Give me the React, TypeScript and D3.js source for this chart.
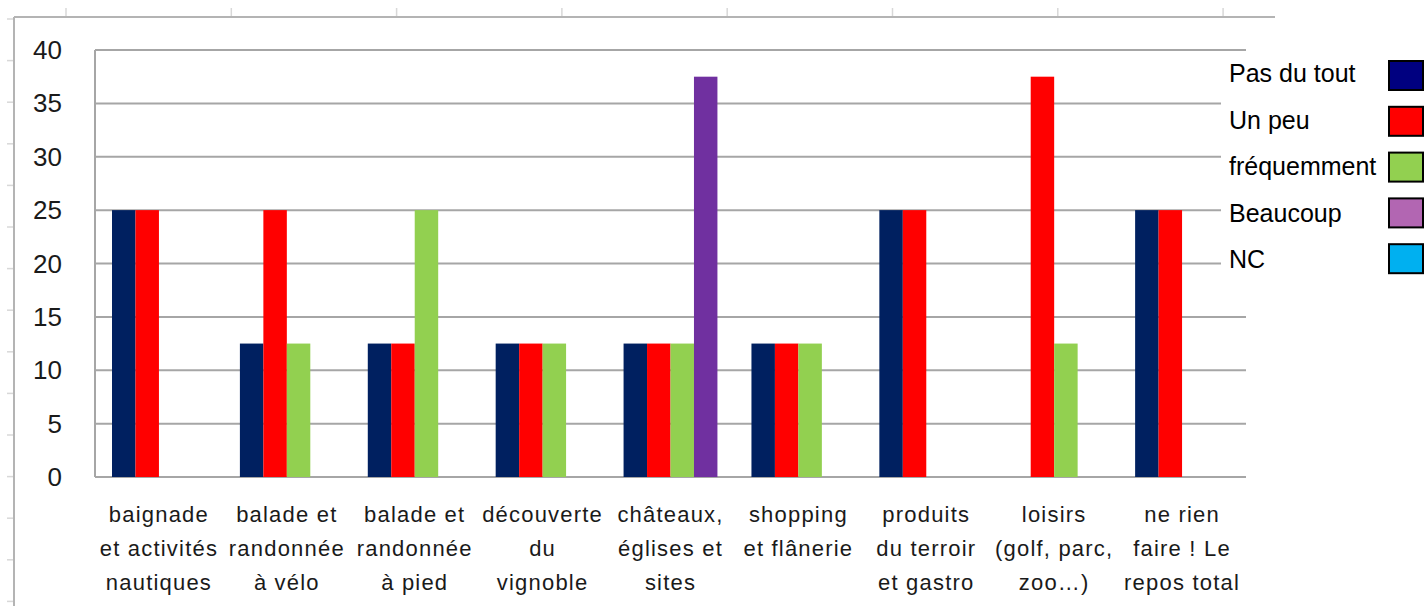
import React from 'react';
import * as d3 from 'd3';

const categories: string[][] = [
  ['baignade', 'et activités', 'nautiques'],
  ['balade et', 'randonnée', 'à vélo'],
  ['balade et', 'randonnée', 'à pied'],
  ['découverte', 'du', 'vignoble'],
  ['châteaux,', 'églises et', 'sites'],
  ['shopping', 'et flânerie'],
  ['produits', 'du terroir', 'et gastro'],
  ['loisirs', '(golf, parc,', 'zoo…)'],
  ['ne rien', 'faire ! Le', 'repos total'],
];

const series = ['Pas du tout', 'Un peu', 'fréquemment', 'Beaucoup'];
const pasDuTout = [25, 12.5, 12.5, 12.5, 12.5, 12.5, 25, 0, 25];
const unPeu = [25, 25, 12.5, 12.5, 12.5, 12.5, 25, 37.5, 25];
const frequemment = [0, 12.5, 25, 12.5, 12.5, 12.5, 0, 12.5, 0];
const beaucoup = [0, 0, 0, 0, 37.5, 0, 0, 0, 0];
const seriesValues = [pasDuTout, unPeu, frequemment, beaucoup];
const barColors = ['#002060', '#FF0000', '#92D050', '#7030A0'];

const legendLabels = ['Pas du tout', 'Un peu', 'fréquemment', 'Beaucoup', 'NC'];
const legendColors = ['#000080', '#FF0000', '#92D050', '#B266B2', '#00B0F0'];

const yTicks = [0, 5, 10, 15, 20, 25, 30, 35, 40];

const W = 1425;
const H = 606;
const plot = { left: 95, right: 1246, top: 50, bottom: 477 };
const font = '"Liberation Sans", Arial, sans-serif';

export default function App() {
  const keys = categories.map((_, i) => String(i));
  const x0 = d3.scaleBand<string>()
    .domain(keys)
    .range([plot.left, plot.right])
    .paddingInner(0.266)
    .paddingOuter(0.133);
  const x1 = d3.scaleBand<string>()
    .domain(series)
    .range([0, x0.bandwidth()]);
  const y = d3.scaleLinear().domain([0, 40]).range([plot.bottom, plot.top]);

  // spreadsheet frame decorations behind the chart
  const sheetCols = d3.range(66, 1275, 165.3);
  const sheetRows = d3.range(19, H, 41.6);

  return (
    <svg width={W} height={H} style={{ position: 'absolute', left: 0, top: 0, background: '#fff' }}>
      <g>
        <line x1={14} x2={1275} y1={17} y2={17} stroke="#b4b4b4" strokeWidth={2} />
        <line x1={14} x2={14} y1={17} y2={H} stroke="#b4b4b4" strokeWidth={2} />
        {sheetCols.map((c, i) => (
          <line key={'c' + i} x1={c} x2={c} y1={8} y2={16} stroke="#d8d8d8" strokeWidth={1.5} />
        ))}
        {sheetRows.map((r, i) => (
          <line key={'r' + i} x1={7} x2={13} y1={r} y2={r} stroke="#d8d8d8" strokeWidth={1.5} />
        ))}
      </g>

      {/* gridlines */}
      {yTicks.map(t => (
        <line key={t} x1={plot.left} x2={plot.right} y1={y(t)} y2={y(t)} stroke="#a6a6a6" strokeWidth={2} />
      ))}
      <line x1={plot.left} x2={plot.left} y1={plot.top} y2={plot.bottom} stroke="#a6a6a6" strokeWidth={2} />

      {/* y labels */}
      {yTicks.map(t => (
        <text key={'l' + t} x={62} y={y(t)} dy="0.35em" textAnchor="end" fontFamily={font} fontSize={26} fill="#1a1a1a">
          {t}
        </text>
      ))}

      {/* bars */}
      {keys.map((k, ci) => (
        <g key={k} transform={`translate(${x0(k)},0)`}>
          {series.map((s, si) => {
            const v = seriesValues[si][ci];
            if (!v) return null;
            return (
              <rect key={s} x={x1(s)} y={y(v)} width={x1.bandwidth()} height={y(0) - y(v)} fill={barColors[si]} />
            );
          })}
        </g>
      ))}

      {/* category labels */}
      {categories.map((lines, ci) => (
        <text key={'x' + ci} textAnchor="middle" fontFamily={font} fontSize={22} letterSpacing={1.2} fill="#1a1a1a">
          {lines.map((ln, li) => (
            <tspan key={li} x={(x0(String(ci)) || 0) + x0.bandwidth() / 2} y={522 + li * 34}>{ln}</tspan>
          ))}
        </text>
      ))}

      {/* legend */}
      <rect x={1221} y={51} width={W - 1221} height={240} fill="#fff" />
      {legendLabels.map((lab, i) => (
        <g key={lab}>
          <text x={1229} y={82 + i * 46.6} fontFamily={font} fontSize={25} fill="#000">{lab}</text>
          <rect x={1389} y={61 + i * 45.8} width={34} height={29} fill={legendColors[i]} stroke="#000" strokeWidth={2} />
        </g>
      ))}
    </svg>
  );
}
